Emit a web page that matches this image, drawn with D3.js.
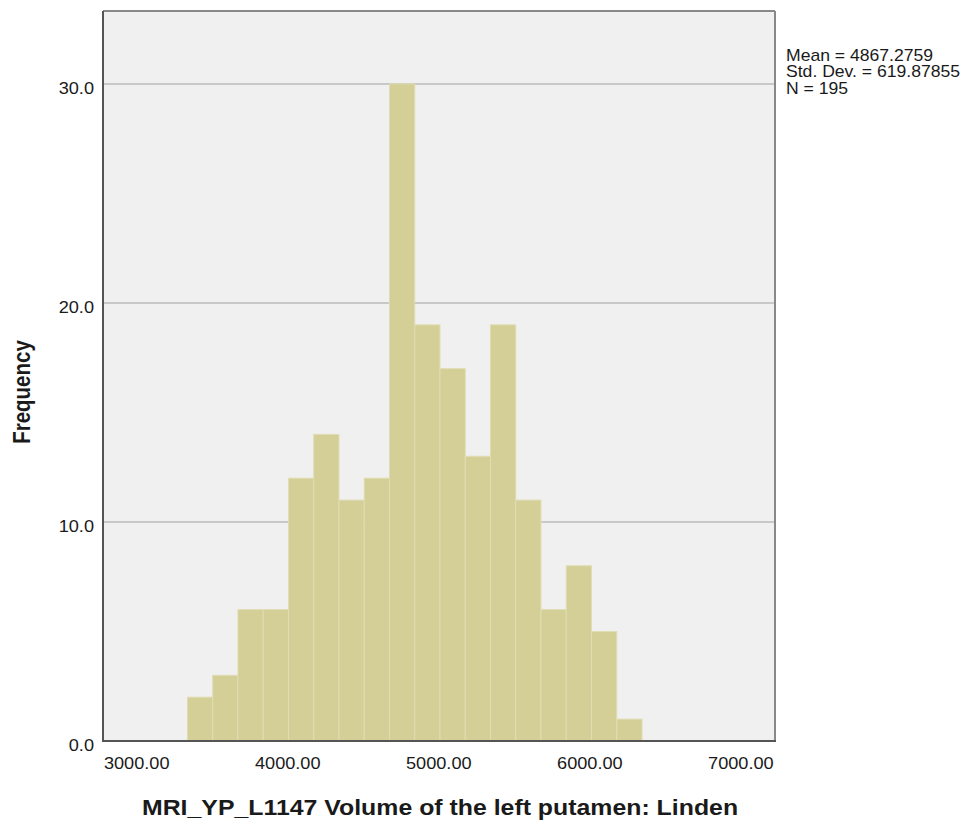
<!DOCTYPE html>
<html>
<head>
<meta charset="utf-8">
<script src="https://cdn.jsdelivr.net/npm/d3@7"></script>
<style>
  body { margin: 0; background: #fff; }
  text { font-family: "Liberation Sans", Arial, sans-serif; fill: #1a1a1a; }
</style>
</head>
<body>
<div id="chart"></div>
<script>
// histogram bins (from the picture)
const binStart = 3336;
const binWidth = 167.2;
const counts = [2, 3, 6, 6, 12, 14, 11, 12, 30, 19, 17, 13, 19, 11, 6, 8, 5, 1];
const xTicks = [3000, 4000, 5000, 6000, 7000];
const yTicks = [0, 10, 20, 30];
const statsLines = ["Mean = 4867.2759", "Std. Dev. = 619.87855", "N = 195"];

const bins = counts.map((c, i) => ({ x0: binStart + i * binWidth, x1: binStart + (i + 1) * binWidth, n: c }));

const W = 970, H = 827;
const plot = { left: 103, top: 11, right: 775, bottom: 741 };
const sx = 1.1; // the source picture is a bit wider than tall, text too

const svg = d3.select("#chart").append("svg")
    .attr("width", W)
    .attr("height", H);

const x = d3.scaleLinear()
    .domain([2777, 7226])
    .range([plot.left, plot.right]);

const y = d3.scaleLinear()
    .domain([0, 33.33])
    .range([plot.bottom, plot.top]);

// background
svg.append("rect")
    .attr("x", plot.left).attr("y", plot.top)
    .attr("width", plot.right - plot.left)
    .attr("height", plot.bottom - plot.top)
    .attr("fill", "#f0f0f0");

// grid lines
svg.selectAll(".grid")
    .data(yTicks.filter(d => d > 0))
    .join("line")
    .attr("class", "grid")
    .attr("x1", plot.left).attr("x2", plot.right)
    .attr("y1", d => y(d)).attr("y2", d => y(d))
    .attr("stroke", "#c8c8c8")
    .attr("stroke-width", 2);

// bars
svg.selectAll(".bar")
    .data(bins)
    .join("rect")
    .attr("class", "bar")
    .attr("x", d => x(d.x0))
    .attr("width", d => x(d.x1) - x(d.x0))
    .attr("y", d => y(d.n))
    .attr("height", d => y(0) - y(d.n))
    .attr("fill", "#d3cf96")
    .attr("stroke", "#e0ddb4")
    .attr("stroke-width", 1);

// frame: top/right light, left/bottom dark
svg.append("line")
    .attr("x1", plot.left).attr("x2", plot.right)
    .attr("y1", plot.top).attr("y2", plot.top)
    .attr("stroke", "#888").attr("stroke-width", 2);
svg.append("line")
    .attr("x1", plot.right).attr("x2", plot.right)
    .attr("y1", plot.top).attr("y2", plot.bottom)
    .attr("stroke", "#888").attr("stroke-width", 2);
svg.append("line")
    .attr("x1", plot.left).attr("x2", plot.left)
    .attr("y1", plot.top).attr("y2", plot.bottom + 1)
    .attr("stroke", "#555").attr("stroke-width", 2);
svg.append("line")
    .attr("x1", plot.left - 1).attr("x2", plot.right + 1)
    .attr("y1", plot.bottom).attr("y2", plot.bottom)
    .attr("stroke", "#555").attr("stroke-width", 2);

// tick labels
svg.selectAll(".ylab")
    .data(yTicks)
    .join("text")
    .attr("class", "ylab")
    .attr("transform", d => `translate(94,${y(d) + 10}) scale(${sx},1)`)
    .attr("text-anchor", "end")
    .attr("font-size", 16.5)
    .text(d => d3.format(".1f")(d));

svg.selectAll(".xlab")
    .data(xTicks)
    .join("text")
    .attr("class", "xlab")
    .attr("transform", d => `translate(${x(d)},769) scale(${sx},1)`)
    .attr("text-anchor", "middle")
    .attr("font-size", 16.5)
    .text(d => d3.format(".2f")(d));

// axis titles
svg.append("text")
    .attr("transform", `translate(440,815) scale(1.13,1)`)
    .attr("text-anchor", "middle")
    .attr("font-size", 22)
    .attr("font-weight", "bold")
    .text("MRI_YP_L1147 Volume of the left putamen: Linden");

svg.append("text")
    .attr("transform", "translate(30,392) scale(1.13,1) rotate(-90)")
    .attr("text-anchor", "middle")
    .attr("font-size", 20.5)
    .attr("font-weight", "bold")
    .text("Frequency");

// stats box
svg.selectAll(".stat")
    .data(statsLines)
    .join("text")
    .attr("class", "stat")
    .attr("transform", (d, i) => `translate(786,${61 + i * 16.3}) scale(${sx},1)`)
    .attr("font-size", 16)
    .text(d => d);
</script>
</body>
</html>
